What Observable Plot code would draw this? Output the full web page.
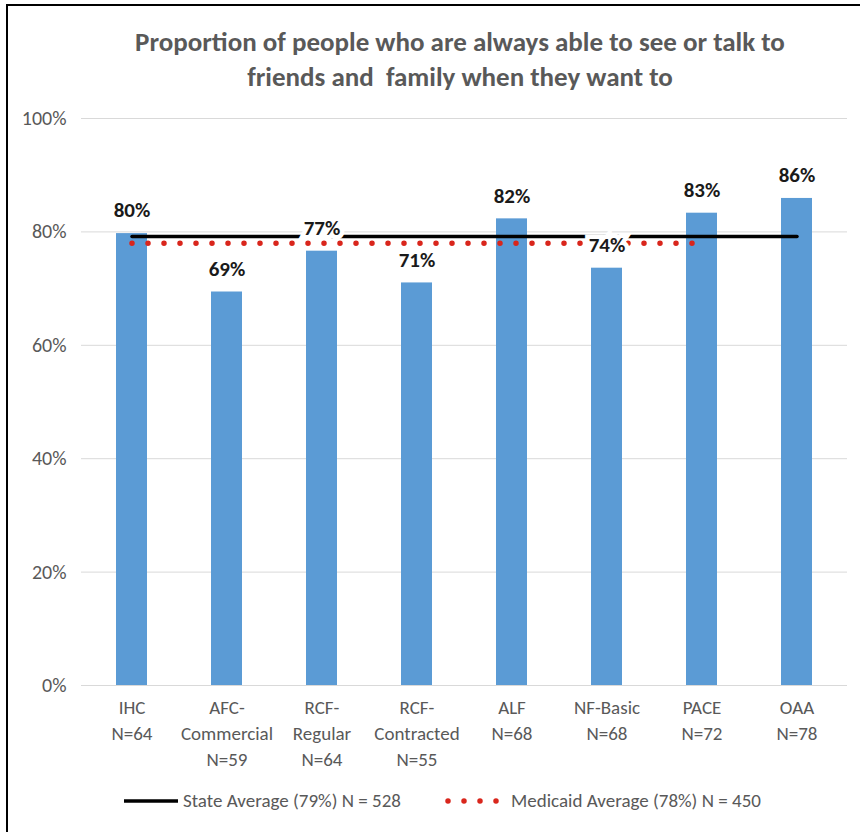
<!DOCTYPE html>
<html>
<head>
<meta charset="utf-8">
<script src="https://cdn.jsdelivr.net/npm/d3@7"></script>
<script src="https://cdn.jsdelivr.net/npm/@observablehq/plot@0.6"></script>
<style>
  html, body { margin: 0; padding: 0; background: #fff; }
  #wrap { position: relative; width: 860px; height: 832px; overflow: hidden; background: #fff;
          font-family: Carlito, "Liberation Sans Narrow", Lato, sans-serif; }
  #bt { position: absolute; left: 6px; top: 4px; width: 854px; height: 2px; background: #000; }
  #bl { position: absolute; left: 6px; top: 4px; width: 2px; height: 828px; background: #000; }
  #title { position: absolute; left: 60px; width: 800px; top: 24px; text-align: center;
           font-size: 27px; font-weight: bold; color: #595959; line-height: 35px; }
  #chart { position: absolute; left: 0; top: 100px; }
  .leg { position: absolute; top: 789px; font-size: 19px; color: #595959; line-height: 24px; white-space: nowrap; }
</style>
</head>
<body>
<div id="wrap">
  <div id="title">Proportion of people who are always able to see or talk to<br>friends and&nbsp; family when they want to</div>
  <div id="chart"></div>
  <svg class="leg" style="left:120px; top:795px" width="62" height="12"><line x1="4" x2="58" y1="6" y2="6" stroke="#000" stroke-width="3.5"/></svg>
  <div class="leg" style="left:183px">State Average (79%) N = 528</div>
  <svg class="leg" style="left:442px; top:795px" width="62" height="12"><line x1="6" x2="56" y1="6" y2="6" stroke="#d9261c" stroke-width="5.5" stroke-dasharray="0,16" stroke-linecap="round"/></svg>
  <div class="leg" style="left:511px">Medicaid Average (78%) N = 450</div>
  <div id="bt"></div>
  <div id="bl"></div>
</div>
<script>
const categories = ["IHC", "AFC-Commercial", "RCF-Regular", "RCF-Contracted", "ALF", "NF-Basic", "PACE", "OAA"];
const xTickLabels = ["IHC\nN=64", "AFC-\nCommercial\nN=59", "RCF-\nRegular\nN=64", "RCF-\nContracted\nN=55", "ALF\nN=68", "NF-Basic\nN=68", "PACE\nN=72", "OAA\nN=78"];
const values = [79.7, 69.4, 76.6, 71.0, 82.3, 73.6, 83.3, 85.9];
const stateAverage = 79.2;
const medicaidAverage = 78.0;
const medicaidCategories = ["IHC", "AFC-Commercial", "RCF-Regular", "RCF-Contracted", "ALF", "NF-Basic", "PACE"];
const yTicks = [0, 20, 40, 60, 80, 100];

const bars = categories.map((c, i) => ({cat: c, v: values[i]}));
const stateLine = categories.map(c => ({cat: c, v: stateAverage}));
const medLine = medicaidCategories.map(c => ({cat: c, v: medicaidAverage}));
const labelOf = Object.fromEntries(categories.map((c, i) => [c, xTickLabels[i]]));
const font = 'Carlito, "Liberation Sans Narrow", Lato, sans-serif';

const chart = Plot.plot({
  width: 860,
  height: 675,
  marginLeft: 81,
  marginRight: 13,
  marginTop: 18,
  marginBottom: 90,
  style: {fontFamily: font, background: "transparent", overflow: "visible"},
  x: {domain: categories, paddingInner: 0.67, paddingOuter: 0.335, label: null, axis: null},
  y: {domain: [0, 100], label: null, axis: null},
  marks: [
    Plot.gridY(yTicks, {stroke: "#d9d9d9", strokeOpacity: 1, strokeWidth: 1}),
    Plot.axisY(yTicks, {tickSize: 0, tickPadding: 15, fontSize: 20, fill: "#595959", tickFormat: d => d + "%", label: null}),
    Plot.barY(bars, {x: "cat", y: "v", fill: "#5b9bd5"}),
    Plot.lineY(stateLine, {x: "cat", y: "v", stroke: "#000", strokeWidth: 3.5}),
    Plot.lineY(medLine, {x: "cat", y: "v", stroke: "#d9261c", strokeWidth: 5.5, strokeDasharray: "0,16", strokeLinecap: "round"}),
    Plot.text(bars, {x: "cat", y: "v", text: d => Math.round(d.v) + "%", dy: -23, fontSize: 21, fontWeight: "bold",
      fill: "#1a1a1a", stroke: "white", strokeWidth: 9, strokeLinejoin: "miter", paintOrder: "stroke"}),
    Plot.axisX({tickSize: 0, tickPadding: 10, fontSize: 19, fill: "#595959", lineHeight: 1.37,
      tickFormat: d => labelOf[d], label: null})
  ]
});
document.getElementById("chart").appendChild(chart);
</script>
</body>
</html>
